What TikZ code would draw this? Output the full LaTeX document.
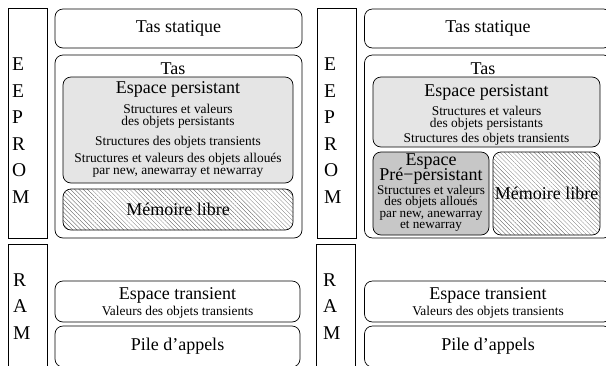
\documentclass[tikz,border=0pt]{standalone}
\usepackage{fontspec}
\setmainfont{Liberation Serif}
\usepackage{tikz}
\usetikzlibrary{patterns.meta}
\setlength{\lineskiplimit}{-20pt}

\begin{document}
\begin{tikzpicture}[x=1pt,y=-1pt]

   %Styles of boxes and texts
   \tikzstyle{zone} = [rectangle, rounded corners=8pt, draw=black, line width=0.7pt, inner sep=0pt, font=\fontsize{18}{15}\selectfont]
   \tikzstyle{barre} = [rectangle, draw=black, line width=0.7pt, inner sep=0pt]
   \tikzstyle{persistant} = [zone, fill=black!10]
   \tikzstyle{prepersistant} = [zone, fill=black!22]
   \tikzstyle{libre} = [zone, pattern={Lines[angle=-45,distance=3pt,line width=0.3pt]}, pattern color=black!65]
   \tikzstyle{grand} = [inner sep=0pt, align=center, font=\fontsize{18}{15.5}\selectfont]
   \tikzstyle{petit} = [inner sep=0pt, align=center, font=\fontsize{13.4}{12}\selectfont]
   \tikzstyle{serre} = [font=\fontsize{13.2}{11.3}\selectfont]
   \tikzstyle{lettres} = [inner sep=0pt, align=left, font=\fontsize{19.5}{26.5}\selectfont]
   % multi-line texts: anchor=base is the baseline of the last line

   %Page frame
   \useasboundingbox (0,0) rectangle (606,365);
   \clip (0,0) rectangle (606,365);

   %Left memory map
   \node[barre, minimum width=39pt, minimum height=230pt] (eepromG) at (27.5,123) {};
   \node[barre, minimum width=39pt, minimum height=140pt] (ramG) at (27.5,314) {};
   \node[lettres, anchor=west] (eepromGt) at (12,130.8) {E\\E\\P\\R\\O\\M};
   \node[lettres, anchor=west] (ramGt) at (13,306.5) {R\\A\\M};

   \node[zone, minimum width=247pt, minimum height=39pt] (statiqueG) at (178.5,28.5) {Tas statique};
   \node[zone, minimum width=247pt, minimum height=183pt] (tasG) at (178.5,146.5) {};
   \node[persistant, minimum width=230pt, minimum height=106pt] (persistG) at (178,130) {};
   \node[libre, minimum width=230pt, minimum height=41pt] (libreG) at (178,209.5) {Mémoire libre};
   \node[zone, minimum width=245pt, minimum height=41pt] (transientG) at (177.5,301.5) {};
   \node[zone, minimum width=245pt, minimum height=41pt] (pileG) at (177.5,346.5) {Pile d'appels};

   \node[grand, anchor=base] (tasGt) at (173,74) {Tas};
   \node[grand, anchor=base] (persistGt) at (178,93.5) {Espace persistant};
   \node[petit, anchor=base] (persistG1) at (178,125) {Structures et valeurs\\des objets persistants};
   \node[petit, anchor=base] (persistG2) at (178,145.5) {Structures des objets transients};
   \node[petit, anchor=base] (persistG3) at (178,174.5) {Structures et valeurs des objets alloués\\par new, anewarray et newarray};
   \node[grand, anchor=base] (transientGt) at (177.5,299) {Espace transient};
   \node[petit, anchor=base] (transientG1) at (177.5,315) {Valeurs des objets transients};

   %Right memory map
   \node[barre, minimum width=39pt, minimum height=230pt] (eepromD) at (336.5,123) {};
   \node[barre, minimum width=39pt, minimum height=140pt] (ramD) at (336,314) {};
   \node[lettres, anchor=west] (eepromDt) at (324,130.8) {E\\E\\P\\R\\O\\M};
   \node[lettres, anchor=west] (ramDt) at (323,306.5) {R\\A\\M};

   \node[zone, minimum width=247pt, minimum height=39pt] (statiqueD) at (488,28.5) {Tas statique};
   \node[zone, minimum width=247pt, minimum height=183pt] (tasD) at (488,146.5) {};
   \node[persistant, minimum width=227pt, minimum height=70pt] (persistD) at (486.5,112) {};
   \node[prepersistant, minimum width=116pt, minimum height=83pt] (preD) at (431,193.5) {};
   \node[libre, minimum width=107pt, minimum height=83pt] (libreD) at (546.5,193.5) {Mémoire libre};
   \node[zone, minimum width=247pt, minimum height=41pt] (transientD) at (488,301.5) {};
   \node[zone, minimum width=247pt, minimum height=41pt] (pileD) at (488,346.5) {Pile d'appels};

   \node[grand, anchor=base] (tasDt) at (483,74) {Tas};
   \node[grand, anchor=base] (persistDt) at (486.5,96.5) {Espace persistant};
   \node[petit, anchor=base] (persistD1) at (486.5,127) {Structures et valeurs\\des objets persistants};
   \node[petit, anchor=base] (persistD2) at (486.5,142) {Structures des objets transients};
   \node[grand, anchor=base] (preDt) at (431,180.5) {Espace\\Pré−persistant};
   \node[petit, serre, anchor=base] (preD1) at (431,228.5) {Structures et valeurs\\des objets alloués\\par new, anewarray\\et newarray};
   \node[grand, anchor=base] (transientDt) at (488,299) {Espace transient};
   \node[petit, anchor=base] (transientD1) at (488,315) {Valeurs des objets transients};

\end{tikzpicture}
\end{document}
